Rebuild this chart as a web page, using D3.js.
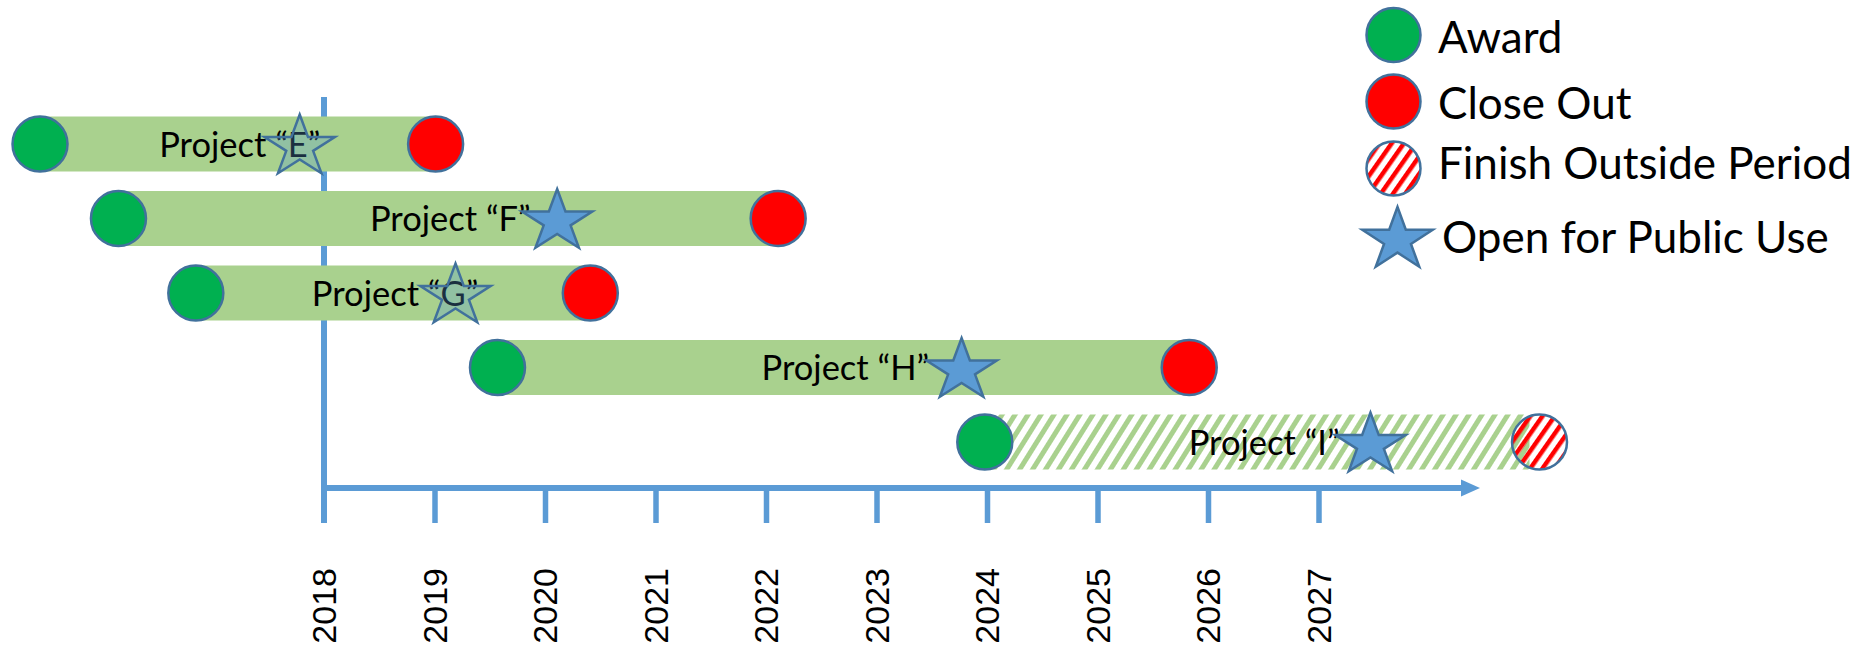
<!DOCTYPE html>
<html>
<head>
<meta charset="utf-8">
<script src="https://cdn.jsdelivr.net/npm/d3@7"></script>
<style>
  html, body { margin: 0; padding: 0; background: #ffffff; }
  svg { display: block; }
</style>
</head>
<body>
<svg id="chart" width="1864" height="646"></svg>
<script>
// ---------------- DATA ----------------
const projects       = ["Project \u201CE\u201D", "Project \u201CF\u201D", "Project \u201CG\u201D", "Project \u201CH\u201D", "Project \u201CI\u201D"];
const awardYear      = [2015.43, 2016.14, 2016.84, 2019.57, 2023.98];
const closeOutYear   = [2019.01, 2022.11, 2020.41, 2025.83, 2029.00];
const publicUseYear  = [2017.78, 2020.11, 2019.19, 2023.77, 2027.47];
const finishOutside  = [false, false, false, false, true];
const tickYears      = [2018, 2019, 2020, 2021, 2022, 2023, 2024, 2025, 2026, 2027];
const tickLabels     = ["2018", "2019", "2020", "2021", "2022", "2023", "2024", "2025", "2026", "2027"];
const legendLabels   = ["Award", "Close Out", "Finish Outside Period", "Open for Public Use"];

// ---------------- STYLE / LAYOUT ----------------
const C = {
  award: "#00b050", close: "#ff0000", bar: "#a9d18e",
  axis: "#5b9bd5", star: "#5b9bd5", outline: "#41719c", text: "#000000"
};
const fadedStars = new Set([projects[0], projects[2]]);
const FONT = "Lato, 'Open Sans', sans-serif";

const svg = d3.select("#chart");
const defs = svg.append("defs");

// hatch patterns
function hatch(id, color, period, stripe, angle) {
  const p = defs.append("pattern")
    .attr("id", id)
    .attr("patternUnits", "userSpaceOnUse")
    .attr("width", period).attr("height", period)
    .attr("patternTransform", `rotate(${angle})`);
  p.append("rect").attr("x", 0).attr("y", 0).attr("width", stripe).attr("height", period).attr("fill", color);
}
hatch("barHatch", C.bar, 11, 5, 32);
hatch("redHatch", C.close, 10, 4.5, 35);

const x = d3.scaleLinear().domain([2018, 2027]).range([324, 1318.5]);
const y = d3.scalePoint().domain(projects).range([144, 442]);

const rows = projects.map((p, i) => ({
  name: p, award: awardYear[i], close: closeOutYear[i],
  star: publicUseYear[i], outside: finishOutside[i]
}));

const BAR_H = 55;
const R = 27.5;

function starPath(rx, ry) {
  const inner = 0.382;
  const pts = [];
  for (let i = 0; i < 10; i++) {
    const a = -Math.PI / 2 + i * Math.PI / 5;
    const r = i % 2 === 0 ? 1 : inner;
    pts.push([Math.cos(a) * r * rx, Math.sin(a) * r * ry]);
  }
  return "M" + pts.map(p => p.join(",")).join("L") + "Z";
}

// ---------------- AXES ----------------
const axisG = svg.append("g");
// vertical line at first year
axisG.append("line")
  .attr("x1", x(2018)).attr("x2", x(2018))
  .attr("y1", 97).attr("y2", 523)
  .attr("stroke", C.axis).attr("stroke-width", 6);

// bottom axis ticks via d3 axis
const axisBottom = d3.axisBottom(x)
  .tickValues(tickYears.slice(1))
  .tickSize(35)
  .tickFormat("");
const ab = axisG.append("g").attr("transform", "translate(0,488)").call(axisBottom);
ab.select(".domain").remove();
ab.selectAll(".tick line").attr("stroke", C.axis).attr("stroke-width", 5.5);

// main horizontal line with arrow
axisG.append("line")
  .attr("x1", x(2018) - 3).attr("x2", 1463)
  .attr("y1", 488).attr("y2", 488)
  .attr("stroke", C.axis).attr("stroke-width", 6);
axisG.append("path")
  .attr("d", "M1461,479.5 L1480,488 L1461,496.5 Z")
  .attr("fill", C.axis);

// tick labels rotated
axisG.selectAll("text.tl")
  .data(tickYears)
  .join("text")
  .attr("class", "tl")
  .attr("transform", d => `translate(${x(d)},568) rotate(-90)`)
  .attr("text-anchor", "end")
  .attr("dy", "0.36em")
  .attr("font-family", "'Liberation Sans', Arial, sans-serif")
  .attr("font-size", 34)
  .attr("fill", C.text)
  .text((d, i) => tickLabels[i]);

// ---------------- BARS ----------------
const g = svg.append("g");
g.selectAll("rect.bar")
  .data(rows)
  .join("rect")
  .attr("class", "bar")
  .attr("x", d => x(d.award) - 4)
  .attr("y", d => y(d.name) - BAR_H / 2)
  .attr("width", d => x(d.close) - x(d.award) + (d.outside ? -6 : 10))
  .attr("height", BAR_H)
  .attr("fill", d => d.outside ? "url(#barHatch)" : C.bar);

// award circles
g.selectAll("circle.award")
  .data(rows)
  .join("circle")
  .attr("class", "award")
  .attr("cx", d => x(d.award))
  .attr("cy", d => y(d.name))
  .attr("r", R)
  .attr("fill", C.award)
  .attr("stroke", C.outline).attr("stroke-width", 2.5);

// close-out circles
g.selectAll("circle.close")
  .data(rows)
  .join("circle")
  .attr("class", "close")
  .attr("cx", d => x(d.close))
  .attr("cy", d => y(d.name))
  .attr("r", R)
  .attr("fill", d => d.outside ? "url(#redHatch)" : C.close)
  .attr("stroke", C.outline).attr("stroke-width", 2.5);

// labels
g.selectAll("text.lbl")
  .data(rows)
  .join("text")
  .attr("class", "lbl")
  .attr("x", d => (x(d.award) + x(d.close)) / 2 + 2)
  .attr("y", d => y(d.name) + 12.5)
  .attr("text-anchor", "middle")
  .attr("font-family", FONT)
  .attr("font-size", 34.5)
  .attr("fill", C.text)
  .text(d => d.name);

// stars
g.selectAll("path.star")
  .data(rows)
  .join("path")
  .attr("class", "star")
  .attr("d", starPath(37, 32.5))
  .attr("transform", d => `translate(${x(d.star)},${y(d.name) + 3})`)
  .attr("fill", C.star)
  .attr("fill-opacity", d => fadedStars.has(d.name) ? 0.3 : 1)
  .attr("stroke", C.outline).attr("stroke-width", 2.5)
  .attr("stroke-linejoin", "miter");

// ---------------- LEGEND ----------------
const legendRowY = [35, 101.5, 168.5, 240];
const legendTextDy = [18, 17.5, 10, 13];
const legendTextX = [1438, 1438, 1438, 1442];
const lg = svg.append("g");
const legendFill = [C.award, C.close, "url(#redHatch)"];
lg.selectAll("circle")
  .data(legendLabels.slice(0, 3))
  .join("circle")
  .attr("cx", 1393.5)
  .attr("cy", (d, i) => legendRowY[i])
  .attr("r", 27)
  .attr("fill", (d, i) => legendFill[i])
  .attr("stroke", C.outline).attr("stroke-width", 2.5);
lg.append("path")
  .attr("d", starPath(37, 33))
  .attr("transform", `translate(1397.5,${legendRowY[3]})`)
  .attr("fill", C.star)
  .attr("stroke", C.outline).attr("stroke-width", 2.5);
lg.selectAll("text")
  .data(legendLabels)
  .join("text")
  .attr("x", (d, i) => legendTextX[i])
  .attr("y", (d, i) => legendRowY[i] + legendTextDy[i])
  .attr("font-family", FONT)
  .attr("font-size", 44)
  .attr("fill", C.text)
  .text(d => d);
</script>
</body>
</html>
